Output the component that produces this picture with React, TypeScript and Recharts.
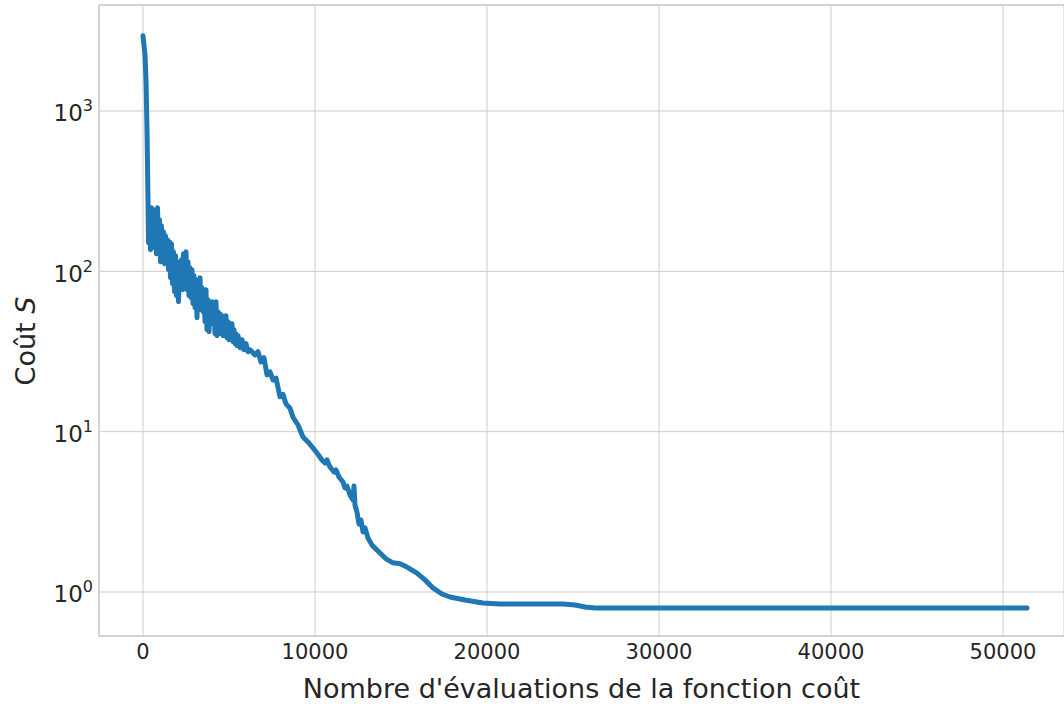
import { CartesianGrid, Label, Line, LineChart, ReferenceLine, XAxis, YAxis } from "recharts";

// nombre d'évaluations de la fonction coût
const evaluations = [
  0, 116, 174, 233, 291,
  320, 378, 436, 494, 552, 610, 669, 727, 785, 843,
  901, 959, 1017, 1076, 1134, 1192, 1250, 1308, 1366, 1424,
  1483, 1541, 1599, 1657, 1715, 1773, 1831, 1890, 1948, 2006,
  2064, 2122, 2180, 2238, 2297, 2355, 2442, 2500, 2558, 2616,
  2674, 2733, 2791, 2849, 2907, 2965, 3023, 3081, 3140, 3198,
  3256, 3314, 3372, 3430, 3488, 3547, 3605, 3663, 3721, 3779,
  3837, 3895, 3954, 4012, 4070, 4128, 4186, 4244, 4302, 4360,
  4419, 4477, 4535, 4593, 4651, 4709, 4767, 4826, 4884, 4942,
  5000, 5058, 5116, 5174, 5233, 5291, 5349, 5407, 5465, 5523,
  5640, 5756, 5872, 5988, 6105, 6221,
  6512, 6686, 6860, 7035, 7209, 7384, 7558, 7733, 7965, 8140,
  8314, 8547, 8721, 9012, 9302, 9593, 9884, 10116, 10407, 10582,
  10698, 10872, 11105, 11221, 11395, 11628, 11744, 11861, 12035, 12209,
  12267, 12326, 12442, 12558, 12674, 12791, 12907, 13081, 13314, 13779,
  14128, 14535, 14942, 15349, 15930, 16395, 16860, 17384, 17849, 18721,
  19767, 20756, 24419, 25116, 25698, 26279, 51395,
];

// coût S correspondant
const cost = [
  2950, 2235, 1560, 762, 279,
  150.6, 234.9, 136.2, 248.8, 140.2, 221.8, 157.2, 241.7, 128.6, 248.8,
  144.3, 209.4, 114.7, 192.2, 125.0, 176.3, 111.5, 166.5, 121.5, 157.2,
  102.3, 152.8, 91.2, 148.5, 83.7, 132.4, 74.6, 125.0, 70.4, 114.7,
  64.6, 105.2, 79.0, 118.0, 76.8, 128.6, 81.3, 132.4, 76.8, 114.7,
  70.4, 105.2, 68.4, 102.3, 62.8, 93.8, 59.3, 88.6, 51.4, 86.1,
  57.6, 91.2, 61.0, 79.0, 56.0, 74.6, 48.5, 76.8, 43.2, 66.5,
  42.0, 61.0, 47.1, 64.6, 49.9, 62.8, 40.8, 64.6, 39.7, 56.0,
  43.2, 54.4, 40.8, 52.9, 39.7, 51.4, 42.0, 52.9, 38.5, 48.5,
  37.4, 47.1, 38.5, 47.1, 36.4, 43.2, 35.4, 40.8, 34.4, 39.7,
  33.4, 37.4, 32.4, 35.4, 31.5, 32.4,
  30.1, 31.5, 27.2, 28.9, 22.6, 23.6, 21.0, 21.6, 16.5, 17.1,
  14.9, 14.0, 12.3, 11.0, 9.26, 8.63, 7.91, 7.36, 6.66, 6.38,
  6.66, 6.02, 5.6, 5.77, 5.21, 4.85, 4.45, 4.58, 4.03, 3.75,
  4.58, 3.49, 3.15, 2.65, 2.81, 2.37, 2.51, 2.17, 1.96, 1.75,
  1.61, 1.52, 1.5, 1.43, 1.31, 1.19, 1.06, 0.972, 0.931, 0.891,
  0.854, 0.842, 0.842, 0.83, 0.806, 0.795, 0.795,
];

const xTicks = [0, 10000, 20000, 30000, 40000, 50000];
const yTicks = [1, 10, 100, 1000];
const yExponents = ["0", "1", "2", "3"];

const xDomain: [number, number] = [-2558, 53547];
const yDomain: [number, number] = [0.5315, 4581];

const data = evaluations.map((n, i) => ({ n, s: cost[i] }));

const FONT = "DejaVu Sans, sans-serif";
const TEXT = "#262626";
const GRID = "#cccccc";

function PowerTick({ x, y, payload }: any) {
  const exp = yExponents[yTicks.indexOf(payload.value)];
  return (
    <text x={x} y={y + 10.5} textAnchor="end" fill={TEXT} fontFamily={FONT}>
      <tspan fontSize={23}>10</tspan>
      <tspan fontSize={16} dy={-10}>{exp}</tspan>
    </text>
  );
}

export default function App() {
  return (
    <div style={{ position: "absolute", left: 0, top: 0, background: "#fff" }}>
      <LineChart width={1064} height={704} data={data} margin={{ top: 5, right: 0, bottom: 0, left: 0 }}>
        <CartesianGrid stroke={GRID} strokeWidth={1} />
        <XAxis
          dataKey="n"
          type="number"
          domain={xDomain}
          ticks={xTicks}
          allowDataOverflow
          height={68}
          tickLine={false}
          tickSize={0}
          tickMargin={8}
          axisLine={{ stroke: GRID, strokeWidth: 1.3 }}
          tick={{ fill: TEXT, fontSize: 21, fontFamily: FONT }}
        >
          <Label
            value="Nombre d'évaluations de la fonction coût"
            position="insideBottom"
            offset={6}
            style={{ fill: TEXT, fontSize: 27, fontFamily: FONT }}
          />
        </XAxis>
        <YAxis
          dataKey="s"
          scale="log"
          domain={yDomain}
          ticks={yTicks}
          allowDataOverflow
          width={99}
          tickLine={false}
          tickSize={0}
          tickMargin={6}
          axisLine={{ stroke: GRID, strokeWidth: 1.3 }}
          tick={<PowerTick />}
        >
          <Label
            content={() => (
              <text
                x={35}
                y={341}
                transform="rotate(-90 35 341)"
                textAnchor="middle"
                fill={TEXT}
                fontSize={27}
                fontFamily={FONT}
              >
                Coût <tspan fontStyle="italic">S</tspan>
              </text>
            )}
          />
        </YAxis>
        <ReferenceLine y={yDomain[1]} stroke={GRID} strokeWidth={1.3} />
        <Line
          type="linear"
          dataKey="s"
          stroke="#1f77b4"
          strokeWidth={5}
          strokeLinejoin="round"
          strokeLinecap="round"
          dot={false}
          isAnimationActive={false}
        />
      </LineChart>
    </div>
  );
}
